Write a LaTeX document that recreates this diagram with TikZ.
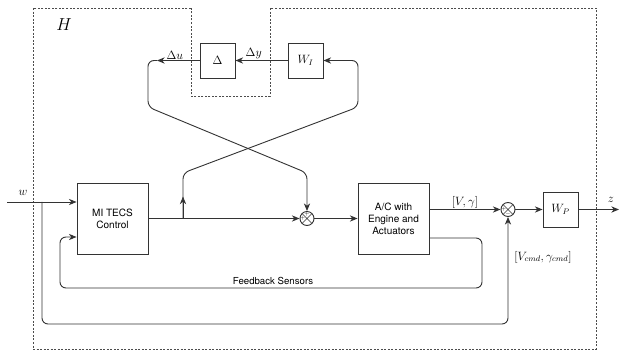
\documentclass[tikz,border=0pt]{standalone}
\usepackage{fontspec}
\setsansfont{TeX Gyre Heros}
\usetikzlibrary{arrows.meta,calc,positioning}

\begin{document}
\begin{tikzpicture}[x=0.035cm,y=-0.035cm,
	blk/.style={draw=black!80,line width=0.9pt,minimum width=2.485cm,minimum height=2.485cm,align=center,font=\sffamily},
	sblk/.style={draw=black!80,line width=0.9pt,minimum width=1.225cm,minimum height=1.225cm,font=\large},
	sumj/.style={circle,draw=black!80,line width=0.9pt,minimum size=0.49cm,inner sep=0pt,
		path picture={\draw[black!80,line width=0.6pt] (path picture bounding box.north west) -- (path picture bounding box.south east)
			(path picture bounding box.north east) -- (path picture bounding box.south west);}},
	arr/.style={-{Stealth[length=2.7mm,width=2.2mm]},draw=black!80,line width=0.9pt},
	sgn/.style={font=\fontsize{4.5}{4.5}\selectfont,inner sep=0pt},
	lbl/.style={font=\large,inner sep=1pt}]
	\useasboundingbox (0,0) rectangle (620,352);
	% outer frame H
	\draw[black!70,line width=0.7pt,dash pattern=on 2pt off 1.5pt] (191,8) -- (33,8) -- (33,349) -- (596,349) -- (596,8) -- (270,8) -- (270,96) -- (191,96) -- cycle;
	\node[font=\LARGE] (hlab) at (64,25) {$H$};
	% blocks
	\node[blk] (ctrl) at (112.5,218.5) {MI TECS\\Control};
	\node[blk] (ac) at (393.5,218.5) {A/C with\\Engine and\\Actuators};
	\node[sblk] (dlt) at (217.5,60.5) {$\Delta$};
	\node[sblk] (wi) at (305.5,60.5) {$W_I$};
	\node[sblk] (wp) at (560.5,209.5) {$W_P$};
	\node[sumj] (sum1) at (307,218.5) {};
	\node[sumj] (sum2) at (508,209.5) {};
	\node[sgn] (s1a) at ($(sum1)+(0,-4.3)$) {$+$};
	\node[sgn] (s1b) at ($(sum1)+(-4.3,0)$) {$+$};
	\node[sgn] (s2a) at ($(sum2)+(-4.3,0)$) {$+$};
	\node[sgn] (s2b) at ($(sum2)+(0,4.3)$) {$-$};
	% helper points
	\coordinate (win) at (7,202);
	\coordinate (wbr) at (42,202);
	\coordinate (wlow) at (42,324);
	\coordinate (cbr) at (183,218.5);
	\coordinate (du) at (157,60.5);
	\coordinate (fbo) at ($(ac.east)+(0,19.5)$);
	\coordinate (fbi) at (60,237);
	\coordinate (zout) at (619,209.5);
	% signals
	\draw[arr] (win) -- (win -| ctrl.west);
	\node[lbl] (wlab) at (23,193) {$w$};
	\draw[arr,rounded corners=6] (wbr) -- (wlow) -| (sum2.south);
	\draw[arr] (ctrl.east) -- (sum1.west);
	\draw[arr] (cbr) -- ++(0,-22);
	\draw[arr,rounded corners=6] (cbr) -- (183,173) -- (358,107) -- (358,60.5) -- (wi.east);
	\draw[arr] (wi.west) -- (dlt.east) node[lbl,pos=0.65,above] (dylab) {$\Delta y$};
	\draw[arr] (dlt.west) -- (du) node[lbl,pos=0.58,above] (dulab) {$\Delta u$};
	\draw[arr,rounded corners=6] (du) -- (148,60.5) -- (148,107) -- (307,173) -- (sum1.north);
	\draw[arr] (sum1.east) -- (ac.west);
	\draw[arr] (ac.east |- sum2) -- (sum2.west) node[lbl,midway,above] (vglab) {$[V,\gamma]$};
	\draw[arr] (sum2.east) -- (wp.west);
	\draw[arr] (wp.east) -- (zout);
	\node[lbl] (zlab) at (611,200) {$z$};
	\node[lbl] (vcmd) at (543,257) {$[V_{cmd},\gamma_{cmd}]$};
	% feedback loop
	\draw[arr,rounded corners=6] (fbo) -| (482,288) -| (fbi) -- (fbi -| ctrl.west);
	\node[font=\sffamily\fontsize{9.6}{11}\selectfont] (fblab) at (273,281) {Feedback Sensors};
\end{tikzpicture}
\end{document}
